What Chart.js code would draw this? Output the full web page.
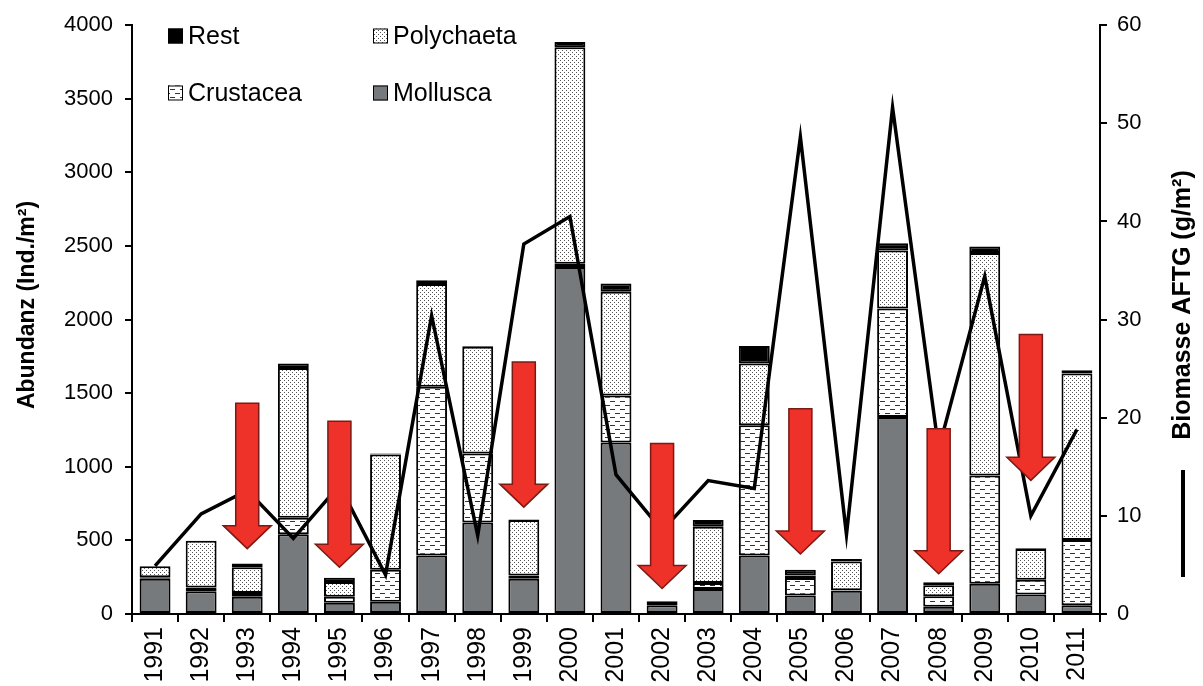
<!DOCTYPE html>
<html>
<head>
<meta charset="utf-8">
<script src="https://cdn.jsdelivr.net/npm/chart.js@4.4.1/dist/chart.umd.min.js"></script>
<style>
  body { margin: 0; background: #fff; }
  canvas { display: block; }
</style>
</head>
<body>
<canvas id="chart" width="1203" height="686"></canvas>
<script>
// values
const years = ['1991', '1992', '1993', '1994', '1995', '1996', '1997', '1998', '1999', '2000',
    '2001', '2002', '2003', '2004', '2005', '2006', '2007', '2008', '2009', '2010', '2011'];
const mollusca   = [240, 155, 117, 542, 76, 83, 397, 621, 240, 2358, 1165, 60, 170, 397, 126, 158, 1338, 49, 206, 132, 60];
const crustacea  = [10, 25, 26, 112, 41, 217, 1147, 470, 22, 22, 319, 0, 41, 885, 118, 3, 737, 72, 735, 101, 442];
const polychaeta = [75, 317, 175, 1018, 100, 783, 697, 724, 377, 1470, 706, 0, 381, 419, 18, 195, 394, 74, 1511, 208, 1132];
const rest       = [0, 0, 25, 29, 30, 8, 27, 5, 3, 36, 55, 27, 47, 119, 38, 18, 50, 20, 44, 5, 22];
const biomasse   = [4.9, 10.2, 12.6, 7.7, 13.1, 4.0, 30.4, 8.0, 37.7, 40.5, 14.2, 8.5, 13.6, 12.8, 48.6, 8.1, 51.6, 16.8, 34.4, 10.0, 18.8];

const leftTicks = [0, 500, 1000, 1500, 2000, 2500, 3000, 3500, 4000];
const rightTicks = [0, 10, 20, 30, 40, 50, 60];

// red arrows (abundance units)
const arrowYears = ['1993', '1995', '1999', '2002', '2005', '2008', '2010'];
const arrowTop   = [1432, 1309, 1712, 1158, 1394, 1259, 1898];
const arrowTip   = [444, 318, 726, 173, 408, 274, 908];

const FONT = "'Liberation Sans', Arial, sans-serif";

function makePattern(w, h, draw) {
    const c = document.createElement('canvas');
    c.width = w;
    c.height = h;
    const g = c.getContext('2d');
    g.fillStyle = '#fff';
    g.fillRect(0, 0, w, h);
    draw(g);
    return g.createPattern(c, 'repeat');
}

// fine stipple for Polychaeta
const dotPattern = makePattern(4, 4, g => {
    g.fillStyle = '#555';
    g.fillRect(0, 0, 1, 1);
    g.fillRect(2, 2, 1, 1);
});
// horizontal dashes for Crustacea
const dashPattern = makePattern(10, 8, g => {
    g.fillStyle = '#333';
    g.fillRect(0, 1, 5, 1);
    g.fillRect(5, 5, 5, 1);
});

const barStyle = {
    type: 'bar',
    yAxisID: 'y',
    borderColor: '#000',
    borderWidth: 2,
    borderSkipped: false,
    barPercentage: 0.67,
    categoryPercentage: 1,
    order: 1
};

const decor = {
    id: 'decor',
    afterDatasetsDraw(chart) {
        const ctx = chart.ctx;
        const xs = chart.scales.x, ys = chart.scales.y;
        ctx.save();
        arrowYears.forEach((yr, i) => {
            const cx = xs.getPixelForValue(years.indexOf(yr));
            const top = ys.getPixelForValue(arrowTop[i]);
            const tip = ys.getPixelForValue(arrowTip[i]);
            const base = tip - 23;
            ctx.beginPath();
            ctx.moveTo(cx - 11.5, top);
            ctx.lineTo(cx + 11.5, top);
            ctx.lineTo(cx + 11.5, base);
            ctx.lineTo(cx + 24, base);
            ctx.lineTo(cx, tip);
            ctx.lineTo(cx - 24, base);
            ctx.lineTo(cx - 11.5, base);
            ctx.closePath();
            ctx.fillStyle = '#ee3129';
            ctx.fill();
            ctx.strokeStyle = '#7a1a14';
            ctx.lineWidth = 1.5;
            ctx.stroke();
        });
        ctx.restore();
    },
    afterDraw(chart) {
        const ctx = chart.ctx;
        ctx.save();
        ctx.fillStyle = '#000';
        ctx.textAlign = 'center';
        ctx.textBaseline = 'middle';

        // axis titles
        ctx.save();
        ctx.translate(28, 305);
        ctx.rotate(-Math.PI / 2);
        ctx.font = 'bold 23px ' + FONT;
        ctx.fillText('Abundanz (Ind./m²)', 0, 0);
        ctx.restore();

        ctx.save();
        ctx.translate(1183, 305);
        ctx.rotate(-Math.PI / 2);
        ctx.font = 'bold 25px ' + FONT;
        ctx.fillText('Biomasse AFTG (g/m²)', 0, 0);
        ctx.restore();

        // line key under the right title
        ctx.beginPath();
        ctx.moveTo(1183, 470);
        ctx.lineTo(1183, 577);
        ctx.lineWidth = 4;
        ctx.strokeStyle = '#000';
        ctx.stroke();

        // legend inside the plot
        const items = [
            { ds: 3, x: 168, y: 36 },
            { ds: 2, x: 373, y: 36 },
            { ds: 1, x: 168, y: 93 },
            { ds: 0, x: 373, y: 93 }
        ];
        ctx.textAlign = 'left';
        ctx.font = '25px ' + FONT;
        items.forEach(it => {
            const d = chart.data.datasets[it.ds];
            ctx.fillStyle = d.backgroundColor;
            ctx.fillRect(it.x, it.y - 7.5, 15, 15);
            ctx.lineWidth = 1;
            ctx.strokeStyle = '#000';
            ctx.strokeRect(it.x + 0.5, it.y - 7, 14, 14);
            ctx.fillStyle = '#000';
            ctx.fillText(d.label, it.x + 20, it.y + 1);
        });
        ctx.restore();
    }
};

new Chart(document.getElementById('chart'), {
    data: {
        labels: years,
        datasets: [
            { ...barStyle, label: 'Mollusca', data: mollusca, backgroundColor: '#767a7d' },
            { ...barStyle, label: 'Crustacea', data: crustacea, backgroundColor: dashPattern },
            { ...barStyle, label: 'Polychaeta', data: polychaeta, backgroundColor: dotPattern },
            { ...barStyle, label: 'Rest', data: rest, backgroundColor: '#000' },
            {
                type: 'line',
                label: 'Biomasse AFTG',
                yAxisID: 'y1',
                data: biomasse,
                borderColor: '#000',
                borderWidth: 3.5,
                borderJoinStyle: 'miter',
                pointRadius: 0,
                tension: 0,
                fill: false,
                order: 0
            }
        ]
    },
    options: {
        responsive: false,
        devicePixelRatio: 1,
        animation: false,
        layout: { padding: { top: 19, left: 0, right: 0, bottom: 0 } },
        plugins: {
            legend: { display: false },
            tooltip: { enabled: false }
        },
        scales: {
            x: {
                stacked: true,
                grid: { offset: true, drawOnChartArea: false, color: '#000', lineWidth: 2, tickLength: 8 },
                border: { color: '#000', width: 2 },
                ticks: {
                    color: '#000',
                    font: { family: FONT, size: 25 },
                    minRotation: 90,
                    maxRotation: 90,
                    autoSkip: false,
                    padding: 5
                },
                afterFit: s => { s.height = 72; }
            },
            y: {
                stacked: true,
                position: 'left',
                min: 0,
                max: 4000,
                afterBuildTicks: s => { s.ticks = leftTicks.map(v => ({ value: v })); },
                grid: { drawOnChartArea: false, color: '#000', lineWidth: 2, tickLength: 7 },
                border: { color: '#000', width: 2 },
                ticks: { color: '#000', font: { family: FONT, size: 22 }, padding: 12, callback: v => String(v) },
                afterFit: s => { s.width = 132; }
            },
            y1: {
                position: 'right',
                min: 0,
                max: 60,
                afterBuildTicks: s => { s.ticks = rightTicks.map(v => ({ value: v })); },
                grid: { drawOnChartArea: false, color: '#000', lineWidth: 2, tickLength: 7 },
                border: { color: '#000', width: 2 },
                ticks: { color: '#000', font: { family: FONT, size: 22 }, padding: 10, callback: v => String(v) },
                afterFit: s => { s.width = 103; }
            }
        }
    },
    plugins: [decor]
});
</script>
</body>
</html>
